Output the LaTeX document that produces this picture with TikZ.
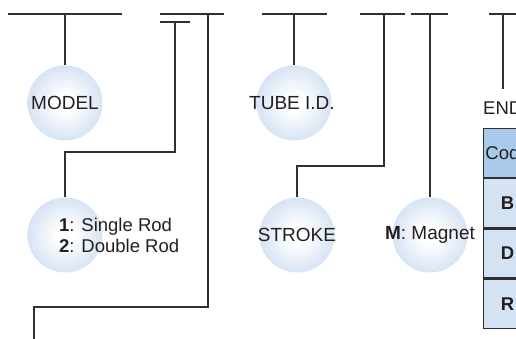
\documentclass[tikz,border=0pt]{standalone}
\usepackage{fontspec}
\setmainfont{Liberation Sans}
\usetikzlibrary{positioning}
\definecolor{wire}{HTML}{332F2E}
\definecolor{ink}{HTML}{231F20}
\definecolor{bubblerim}{HTML}{D6E4F4}
\definecolor{headfill}{HTML}{A9C9EA}
\definecolor{cellfill}{HTML}{D3E3F4}
\pgfdeclareradialshading{bubbleshade}{\pgfpoint{0bp}{0bp}}{color(0bp)=(white); color(6bp)=(white); color(25bp)=(bubblerim); color(50bp)=(bubblerim)}
\tikzset{
  wire/.style={draw=wire, line width=1.4pt},
  every node/.style={text=ink, font=\fontsize{18.5}{21}\selectfont},
  bubble/.style={circle, minimum size=75pt, inner sep=0pt, shade, shading=bubbleshade},
  tag/.style={font=\fontsize{19}{21}\selectfont},
  cell/.style={draw=wire, line width=1.2pt, fill=cellfill, minimum width=48pt, minimum height=49pt, inner sep=0pt, font=\fontsize{18.5}{21}\selectfont\bfseries},
}
\begin{document}
\begin{tikzpicture}[x=1pt, y=-1pt]
\useasboundingbox (0,0) rectangle (516,338);
\clip (0,0) rectangle (516,338);
% top bars
\foreach \a/\b in {8/122,160/224,262/327,360/405,411/448,489/520}{\draw[wire] (\a,14) -- (\b,14);}
\draw[wire] (160,22) -- (190,22);
% bubbles
\node[bubble] (model) at (65,103) {};
\node[tag] at (model) {MODEL};
\node[bubble] (rod) at (65,235) {};
\node[anchor=west, align=left, inner sep=0pt] (rodtxt) at (59,235) {\textbf{1}: Single Rod\\\textbf{2}: Double Rod};
\node[bubble] (tube) at (294,103) {};
\node[tag] at ([xshift=-2pt]tube) {TUBE I.D.};
\node[bubble] (stroke) at (297,235) {};
\node[tag] at (stroke) {STROKE};
\node[bubble] (magnet) at (430,235) {};
\node[tag] at (magnet) {\textbf{M}: Magnet};
% end table
\node[anchor=west, inner sep=0pt] (endlbl) at (483,108) {END};
\node[cell, fill=headfill, font=\fontsize{18.5}{21}\selectfont, anchor=north west] (hcode) at (483,128) {Code};
\node[cell, below=0pt of hcode] (cb) {B};
\node[cell, below=0pt of cb] (cd) {D};
\node[cell, below=0pt of cd] (cr) {R};
% connectors
\coordinate (mtop) at (65,14);
\coordinate (rtop) at (175,22);
\coordinate (ttop) at (294,14);
\coordinate (stop) at (384,14);
\coordinate (gtop) at (430,14);
\coordinate (etop) at (503,14);
\coordinate (eend) at (503,89);
\coordinate (xtop) at (208,14);
\coordinate (xend) at (34,340);
\draw[wire] (mtop) -- (model);
\draw[wire] (rtop) -- (175,152) -| (rod);
\draw[wire] (xtop) -- (208,307) -| (xend);
\draw[wire] (ttop) -- (tube);
\draw[wire] (stop) -- (384,166) -| (stroke);
\draw[wire] (gtop) -- (magnet);
\draw[wire] (etop) -- (eend);
\end{tikzpicture}
\end{document}
